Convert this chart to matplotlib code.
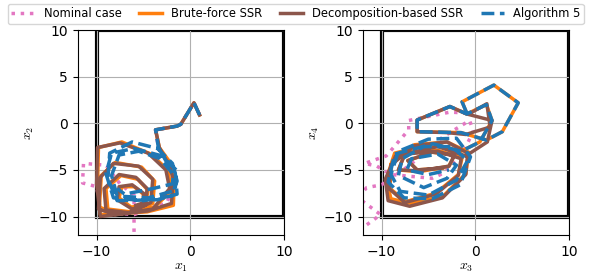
import matplotlib
matplotlib.use('Agg')
import matplotlib.pyplot as plt
from matplotlib.patches import Rectangle

plt.rcParams['mathtext.fontset'] = 'cm'

# ---- data (state trajectories) ----
labels = ['Nominal case', 'Brute-force SSR', 'Decomposition-based SSR', 'Algorithm 5']
colors = ['#e377c2', '#ff7f0e', '#8c564b', '#1f77b4']
styles = [':', '-', '-', '--']

# left panel (x1, x2)
nom_x1 = [1.0, 0.4, -1.0, -1.4, -3.7, -3.4, -2.2, -1.6, -2.5, -6.0, -9.5, -10.0, -11.5, -11.4, -9.0, -7.5, -6.0, -6.0]
nom_x2 = [0.9, 2.2, -0.1, -0.3, -0.7, -2.6, -4.5, -6.5, -8.5, -9.8, -9.5, -6.8, -6.4, -4.3, -4.5, -6.5, -7.7, -13.0]

bf_x1 = [1.0, 0.4, -1.0, -1.4, -3.7, -3.3, -2.0, -1.7, -1.8, -4.6, -9.6, -9.9, -9.8, -7.3, -4.2, -2.4,
         -2.0, -3.8, -7.8, -9.7, -9.5, -8.0, -5.2, -3.8, -4.0, -6.4, -8.8, -9.0, -7.4, -5.6, -4.5, -4.8,
         -6.3, -7.6, -7.3, -6.0, -5.0, -5.0]
bf_x2 = [0.9, 2.2, -0.1, -0.3, -0.7, -2.6, -4.4, -6.0, -8.8, -9.5, -9.8, -6.3, -2.6, -2.0, -3.3, -5.0,
         -7.2, -9.0, -9.7, -9.0, -5.6, -4.2, -4.7, -6.2, -8.6, -9.5, -9.2, -7.0, -5.6, -6.0, -7.2, -8.7,
         -9.0, -8.0, -6.8, -6.8, -7.6, -8.5]

dec_x1 = [1.0, 0.4, -1.0, -1.4, -3.7, -3.3, -2.2, -1.8, -2.0, -4.5, -9.6, -10.0, -9.9, -7.5, -4.5, -2.6,
          -2.2, -4.0, -8.0, -9.8, -9.6, -8.2, -5.5, -4.0, -4.2, -6.5, -9.0, -9.2, -7.6, -5.8, -4.6, -4.8,
          -6.2, -7.8, -7.6, -6.2, -5.0, -4.9, -5.8]
dec_x2 = [0.9, 2.2, -0.1, -0.3, -0.7, -2.6, -4.6, -6.0, -8.6, -9.4, -10.0, -6.5, -2.6, -2.1, -3.2, -5.0,
          -7.0, -9.2, -9.8, -9.2, -5.8, -4.3, -4.6, -6.0, -8.5, -9.6, -9.3, -7.0, -5.5, -5.8, -7.0, -8.8,
          -9.2, -8.2, -6.8, -6.6, -7.5, -8.5, -8.8]

alg_x1 = [1.0, 0.4, -1.0, -1.4, -3.7, -3.4, -2.5, -1.6, -1.4, -3.5, -7.8, -8.8, -8.6, -6.2, -3.5, -1.9,
          -1.4, -2.0, -5.0, -8.2, -9.0, -8.4, -6.0, -3.0, -1.5, -1.6, -4.5, -7.8, -8.4, -7.6, -5.5, -3.2,
          -1.8, -1.9, -4.0, -7.0, -7.8]
alg_x2 = [0.9, 2.2, -0.1, -0.3, -0.7, -2.6, -4.2, -5.3, -7.6, -8.2, -8.3, -6.0, -3.2, -2.0, -2.7, -4.3,
          -6.2, -7.8, -8.3, -8.0, -5.4, -3.2, -2.7, -3.5, -5.0, -7.2, -8.0, -7.8, -5.6, -3.4, -3.0, -3.8,
          -5.5, -6.5, -7.0, -7.6, -7.0]

# right panel (x3, x4)
nom_x3 = [-0.9, -2.7, -7.1, -7.1, -9.5, -11.8, -10.5, -9.0, -4.6, -3.7, -1.5, -0.5, -0.2, -0.6, -3.5,
          -7.0, -10.0, -11.6, -12.5, -10.1, -11.6, -12.5]
nom_x4 = [1.1, 1.2, 0.3, -0.7, -3.5, -4.3, -4.6, -5.5, -5.9, -5.5, -3.5, -1.5, -0.8, 0.3, -1.5,
          -4.5, -6.6, -6.9, -8.0, -9.8, -10.9, -11.5]

bf_x3 = [-0.9, -1.4, 2.0, 4.6, 2.9, 1.2, -1.5, -6.2, -6.2, -2.7, -0.9, 1.2, 1.8, 0.5, -1.5, -4.5,
         -8.6, -9.5, -9.0, -6.8, -3.4, -1.0, -0.7, -3.0, -6.5, -9.0, -9.1, -7.4, -4.2, -1.8, -1.4, -4.0,
         -7.5, -8.2, -6.0, -2.8, -2.2, -4.6, -7.2, -6.2, -3.5]
bf_x4 = [1.1, 2.3, 4.1, 2.2, -0.9, -1.8, -1.0, -0.9, 0.35, 1.8, 1.0, 2.0, 0.3, -2.0, -3.0, -2.2,
         -3.2, -6.0, -8.1, -8.6, -7.8, -5.4, -3.1, -2.0, -2.3, -4.4, -7.0, -8.4, -7.5, -5.5, -3.7, -2.9,
         -3.2, -5.0, -5.2, -4.6, -3.4, -3.1, -4.0, -5.0, -4.8]

dec_x3 = [-0.5, 1.25, 1.6, -1.0, -3.0, -6.2, -6.2, -2.7, -0.9, 1.8, 1.3, -1.0, -4.0, -8.5, -9.6, -9.3,
          -7.0, -3.5, -1.0, -0.8, -3.0, -6.5, -9.0, -9.2, -7.5, -4.2, -1.8, -1.5, -4.0, -7.5, -8.2, -6.0,
          -2.8, -2.2, -4.6, -7.2, -6.2, -3.5]
dec_x4 = [1.1, 2.1, -0.4, -1.2, -1.0, -0.9, 0.35, 1.8, 1.0, 0.3, -2.0, -3.5, -2.5, -3.5, -6.0, -8.3,
          -8.9, -8.0, -5.5, -3.2, -2.0, -2.4, -4.5, -7.0, -8.5, -7.6, -5.6, -3.8, -3.0, -3.3, -5.0, -5.1,
          -4.6, -3.4, -3.1, -4.0, -5.0, -4.8]

alg_x3 = [-0.9, -1.4, 2.0, 4.6, 2.9, 1.2, -1.5, -6.2, -6.2, -2.7, -0.9, 1.2, 1.8, 0.5, -1.5, -4.5,
          -8.6, -9.3, -7.6, -4.6, -1.6, -0.5, -2.0, -5.0, -8.2, -9.0, -8.0, -5.0, -2.0, -0.8, -2.5, -5.5,
          -7.8, -8.2, -5.5, -3.0, -2.0, -4.0, -6.8, -7.3, -5.0, -2.8]
alg_x4 = [1.1, 2.3, 4.1, 2.2, -0.9, -1.8, -1.0, -0.9, 0.35, 1.8, 1.0, 2.0, 0.3, -2.0, -3.0, -2.2,
          -3.3, -6.3, -8.0, -8.1, -6.6, -3.6, -1.6, -1.7, -3.0, -5.5, -7.3, -7.7, -6.1, -4.0, -2.5, -2.5,
          -3.8, -5.6, -6.9, -5.9, -4.5, -3.3, -3.8, -5.0, -5.5, -5.0]

panels = [
    ('$x_1$', '$x_2$', [(nom_x1, nom_x2), (bf_x1, bf_x2), (dec_x1, dec_x2), (alg_x1, alg_x2)]),
    ('$x_3$', '$x_4$', [(nom_x3, nom_x4), (bf_x3, bf_x4), (dec_x3, dec_x4), (alg_x3, alg_x4)]),
]

fig = plt.figure(figsize=(5.9, 2.76), dpi=100)
positions = [[0.132, 0.148, 0.349, 0.743], [0.615, 0.148, 0.349, 0.743]]

for pos, (xl, yl, series) in zip(positions, panels):
    ax = fig.add_axes(pos)
    # state constraint box
    ax.add_patch(Rectangle((-10, -10), 20, 20, fill=False, edgecolor='black', linewidth=3, zorder=1))
    for (xs, ys), c, ls, lab in zip(series, colors, styles, labels):
        ax.plot(xs, ys, color=c, linestyle=ls, linewidth=2.5, label=lab)
    ax.set_xlim(-12, 10)
    ax.set_ylim(-12, 10)
    ax.set_xticks([-10, 0, 10])
    ax.set_yticks([-10, -5, 0, 5, 10])
    ax.tick_params(labelsize=10)
    ax.grid(True)
    ax.set_xlabel(xl, fontsize=10, labelpad=1)
    ax.set_ylabel(yl, fontsize=10, labelpad=2)

handles, lbls = ax.get_legend_handles_labels()
fig.legend(handles, lbls, loc='upper left', bbox_to_anchor=(8 / 590, 1 - 4 / 276), ncol=4,
           fontsize=8.3, borderaxespad=0, borderpad=0.3, columnspacing=1.5)

fig.savefig('out.png', dpi=100)
plt.close(fig)
